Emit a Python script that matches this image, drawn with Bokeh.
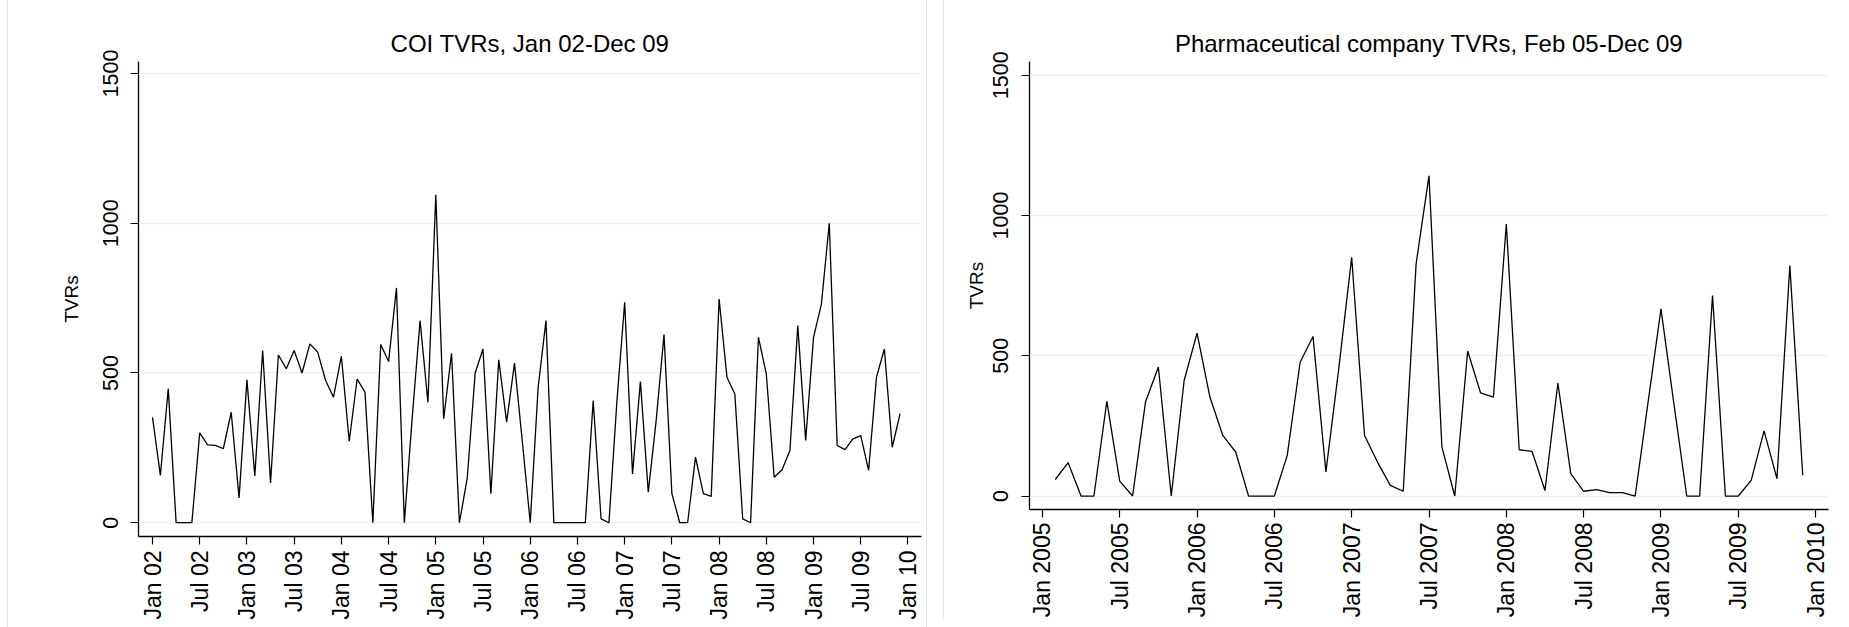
import math
from bokeh.plotting import figure
from bokeh.layouts import row, column
from bokeh.models import FixedTicker, Range1d
from bokeh.embed import file_html
from bokeh.resources import INLINE

# ---- data -------------------------------------------------------------
# COI monthly TVRs, Jan 2002 .. Dec 2009 (month index 0 = Jan 02)
coi_tvrs = [352, 158, 447, 0, 0, 0, 300, 260, 258, 247,
            369, 83, 477, 156, 575, 133, 560, 514, 575, 500,
            597, 569, 475, 419, 556, 272, 480, 436, 0, 595,
            538, 784, 0, 350, 675, 402, 1095, 347, 566, 0,
            150, 500, 580, 97, 544, 336, 533, 270, 0, 450,
            675, 0, 0, 0, 0, 0, 408, 13, 0, 400,
            736, 163, 471, 102, 341, 628, 97, 0, 0, 219,
            97, 88, 747, 486, 430, 13, 0, 619, 497, 152,
            177, 241, 658, 275, 619, 730, 1000, 258, 244, 280,
            291, 175, 486, 580, 252, 364]
coi_month = list(range(0, len(coi_tvrs)))
coi_tick_pos = [0, 6, 12, 18, 24, 30, 36, 42, 48, 54, 60, 66, 72, 78, 84, 90, 96]
coi_tick_lab = ["Jan 02", "Jul 02", "Jan 03", "Jul 03", "Jan 04", "Jul 04",
                "Jan 05", "Jul 05", "Jan 06", "Jul 06", "Jan 07", "Jul 07",
                "Jan 08", "Jul 08", "Jan 09", "Jul 09", "Jan 10"]

# Pharmaceutical company monthly TVRs, Feb 2005 .. Dec 2009 (month index 0 = Jan 2005)
pha_tvrs = [59, 119, 0, 0, 338, 53, 0, 335, 460, 0,
            412, 581, 353, 216, 157, 0, 0, 0, 145, 477,
            569, 86, 455, 851, 216, 121, 38, 17, 828, 1142,
            175, 0, 517, 368, 353, 970, 165, 159, 20, 403,
            80, 17, 23, 12, 12, 0, 335, 667, 330, 0,
            0, 715, 0, 0, 56, 232, 62, 822, 74]
pha_month = list(range(1, len(pha_tvrs) + 1))
pha_tick_pos = [0, 6, 12, 18, 24, 30, 36, 42, 48, 54, 60]
pha_tick_lab = ["Jan 2005", "Jul 2005", "Jan 2006", "Jul 2006", "Jan 2007",
                "Jul 2007", "Jan 2008", "Jul 2008", "Jan 2009", "Jul 2009",
                "Jan 2010"]

y_ticks = [0, 500, 1000, 1500]

FONT = "Liberation Sans"
EDGE = "1px solid #e3e9eb"


def make_panel(title, xs, ys, tick_pos, tick_lab, x_range, y_range,
               frame_w, frame_h, mb_left, mb_right, mb_top, mb_bottom,
               ylab_standoff, xlab_standoff, ttl_standoff, axlab_standoff):
    p = figure(frame_width=frame_w, frame_height=frame_h,
               output_backend="svg", toolbar_location=None,
               x_range=Range1d(*x_range), y_range=Range1d(*y_range),
               min_border_left=mb_left, min_border_right=mb_right,
               min_border_top=mb_top, min_border_bottom=mb_bottom)
    p.background_fill_color = "white"
    p.border_fill_color = "white"
    p.outline_line_color = None

    p.title.text = title
    p.title.text_font = FONT
    p.title.text_font_size = "24px"
    p.title.text_font_style = "normal"
    p.title.text_color = "#000000"
    p.title.align = "center"
    p.title.standoff = ttl_standoff

    p.line(xs, ys, line_color="#000000", line_width=1.3)

    p.xgrid.visible = False
    p.ygrid.ticker = FixedTicker(ticks=y_ticks)
    p.ygrid.grid_line_color = "#eaf2f3"
    p.ygrid.grid_line_width = 1.5

    for ax in (p.xaxis[0], p.yaxis[0]):
        ax.axis_line_color = "#000000"
        ax.axis_line_width = 1.3
        ax.major_tick_line_color = "#000000"
        ax.major_tick_line_width = 1.2
        ax.major_tick_out = 8
        ax.major_tick_in = 0
        ax.minor_tick_line_color = None
        ax.major_label_text_font = FONT
        ax.major_label_text_color = "#000000"

    p.xaxis.major_label_text_font_size = "23px"
    p.yaxis.major_label_text_font_size = "21.5px"
    p.xaxis.major_label_orientation = math.pi / 2
    p.yaxis.major_label_orientation = "parallel"

    p.xaxis.ticker = FixedTicker(ticks=tick_pos)
    p.xaxis.major_label_overrides = {k: v for k, v in zip(tick_pos, tick_lab)}
    p.xaxis.major_label_standoff = xlab_standoff

    p.yaxis.ticker = FixedTicker(ticks=y_ticks)
    p.yaxis.major_label_standoff = ylab_standoff
    p.yaxis.axis_label = "TVRs"
    p.yaxis.axis_label_text_font = FONT
    p.yaxis.axis_label_text_font_size = "19px"
    p.yaxis.axis_label_text_font_style = "normal"
    p.yaxis.axis_label_text_color = "#000000"
    p.yaxis.axis_label_standoff = axlab_standoff
    return p


p1 = make_panel("COI TVRs, Jan 02-Dec 09", coi_month, coi_tvrs,
                coi_tick_pos, coi_tick_lab, (-1.78, 97.72), (-46, 1540),
                783, 475, 130, 5, 61, 91, 12, 6, 10, 19)
p2 = make_panel("Pharmaceutical company TVRs, Feb 05-Dec 09", pha_month,
                pha_tvrs, pha_tick_pos, pha_tick_lab, (-1.0, 61.0),
                (-48, 1549), 799, 448, 85, 20, 61, 110, 13, 5, 10, 4)

left = column(p1, margin=(0, 0, 0, 7),
              styles={"border-left": EDGE, "border-right": EDGE})
right = column(p2, margin=(0, 0, 0, 16), styles={"border-left": EDGE})

layout = row(left, right)
open("out.html", "w").write(file_html(layout, INLINE))
